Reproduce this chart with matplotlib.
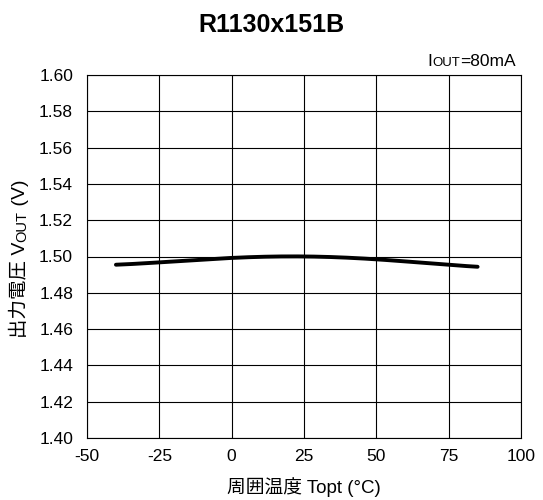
import matplotlib
matplotlib.use("Agg")
import matplotlib.pyplot as plt
import numpy as np

plt.rcParams['font.family'] = ['Liberation Sans', 'Noto Sans CJK JP', 'DejaVu Sans']

temps = [-40, -25, 0, 25, 50, 75, 85]
vout = [1.4955, 1.4967, 1.4993, 1.5000, 1.4984, 1.4955, 1.4943]
xticks = [-50, -25, 0, 25, 50, 75, 100]
yticks = [1.40, 1.42, 1.44, 1.46, 1.48, 1.50, 1.52, 1.54, 1.56, 1.58, 1.60]

fig = plt.figure(figsize=(5.43, 5.00), dpi=100)
ax = fig.add_axes([87/543, 1-438/500, (521-87)/543, (438-75)/500])

xs = np.array(temps, dtype=float)
ys = np.array(vout)
xx = np.linspace(xs[0], xs[-1], 200)
coef = np.polyfit(xs, ys, 4)
ax.plot(xx, np.polyval(coef, xx), color='black', lw=2.8, solid_capstyle='round')

ax.set_xlim(-50, 100)
ax.set_ylim(1.40, 1.60)
ax.set_xticks(xticks)
ax.set_yticks(yticks)
ax.set_xticklabels([str(v) for v in xticks])
ax.set_yticklabels([f"{v:.2f}" for v in yticks])
ax.tick_params(axis='both', labelsize=12.5, length=0)
ax.tick_params(axis='y', pad=10)
ax.tick_params(axis='x', pad=8)
ax.grid(True, color='black', lw=0.8)
for s in ax.spines.values():
    s.set_linewidth(0.8)

fig.text(0.5, 1-25/500, 'R1130x151B', ha='center', va='center', fontsize=18, fontweight='bold')

# IOUT=80mA annotation, built right to left
t3 = fig.text(516/543, 1-69/500, '=80mA', ha='right', va='bottom', fontsize=12.5)
a2 = ax.annotate('OUT', xy=(0, 0), xycoords=t3, ha='right', va='bottom', fontsize=9.5)
a1 = ax.annotate('I', xy=(0, 0), xycoords=a2, ha='right', va='bottom', fontsize=12.5)

# x label
fig.text(0.5 * (87 + 521) / 543, 1-487/500, '周囲温度 Topt (°C)', ha='center', va='center', fontsize=13.5)

# y label pieces
y1 = fig.text(20/543, 1-338/500, '出力電圧 V', rotation=90, ha='center', va='bottom', fontsize=14)
y2 = ax.annotate('OUT', xy=(1, 1), xycoords=y1, rotation=90, ha='right', va='bottom', fontsize=10.5)
y3 = ax.annotate(' (V)', xy=(1, 1), xycoords=y2, rotation=90, ha='right', va='bottom', fontsize=14)

fig.savefig('out.png', dpi=100)
